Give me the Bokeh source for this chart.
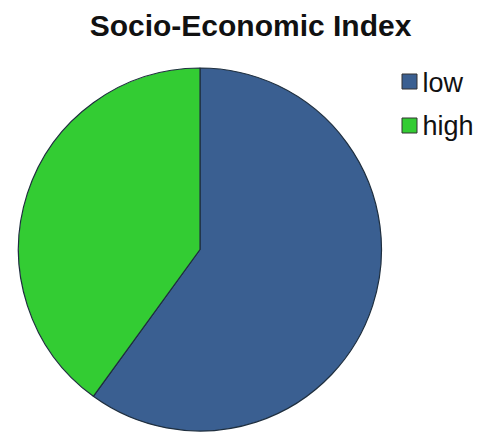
import math
from bokeh.plotting import figure
from bokeh.models import Range1d, ColumnDataSource
from bokeh.core.properties import value
from bokeh.embed import file_html
from bokeh.resources import INLINE

title_text = "Socio-Economic Index"
categories = ["low", "high"]
values = [60, 40]
colors = ["#3A5F91", "#33CC33"]

W, H = 483, 435
p = figure(width=W, height=H, output_backend="svg", toolbar_location=None,
           x_range=Range1d(0, W), y_range=Range1d(0, H), min_border=0)
p.axis.visible = False
p.grid.visible = False
p.outline_line_color = None
p.background_fill_color = "white"
p.border_fill_color = "white"

cx, cy, r = 199.5, H - 249, 181.5
total = sum(values)
# clockwise from 12 o'clock
starts, ends = [], []
acc = 0.0
for v in values:
    a0 = math.pi / 2 - 2 * math.pi * acc / total
    a1 = math.pi / 2 - 2 * math.pi * (acc + v) / total
    starts.append(a1)
    ends.append(a0)
    acc += v

src = ColumnDataSource(dict(cat=categories, start=starts, end=ends, color=colors,
                            x=[cx] * len(values), y=[cy] * len(values)))
p.wedge(x="x", y="y", radius=r, start_angle="start", end_angle="end",
        fill_color="color", line_color="#1F2F3F", line_width=1.2, source=src)

# title
p.text(x=[250], y=[H - 25], text=[title_text], text_font=value("Liberation Sans"),
       text_font_style="bold", text_font_size="30px", text_align="center",
       text_baseline="alphabetic", text_color="#111111")

# legend
sq_y = [H - 81, H - 125]
base_y = [H - 82, H - 125]
for c, col, sy, by in zip(categories, colors, sq_y, base_y):
    p.rect(x=[409], y=[sy], width=15, height=15, fill_color=col,
           line_color="#333333", line_width=1)
    p.text(x=[422], y=[by], text=[c], text_font=value("Liberation Sans"),
           text_font_size="27px", text_align="left", text_baseline="alphabetic",
           text_color="#111111")

open("out.html", "w").write(file_html(p, INLINE))
